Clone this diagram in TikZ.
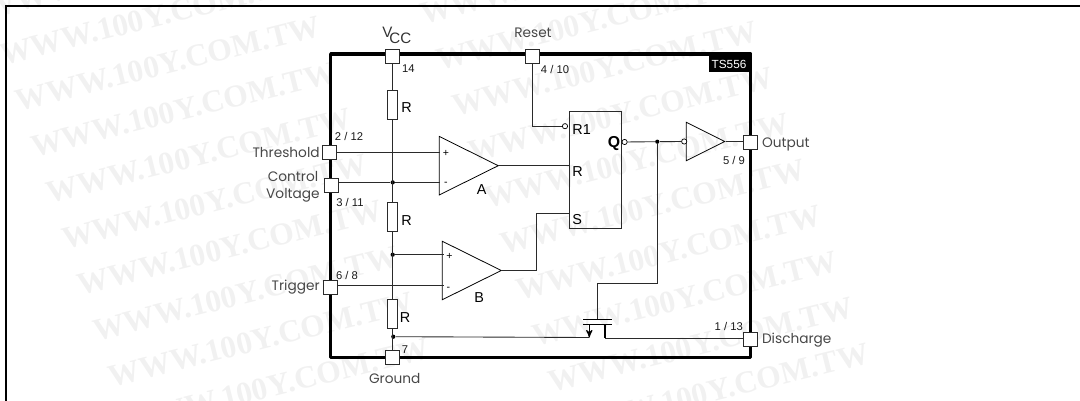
\documentclass[tikz,border=0pt]{standalone}
\usepackage{fontspec}
\setmainfont{Poppins}
\newfontfamily\helv{Liberation Sans}
\newfontfamily\wmfont{Liberation Serif}
\usetikzlibrary{arrows,shapes.geometric}
\definecolor{wirecol}{HTML}{2A2A2A}
\definecolor{wmcol}{HTML}{F1F1F1}

\begin{document}
\begin{tikzpicture}[>=stealth',x=0.02cm,y=-0.02cm,
  wire/.style={draw=wirecol,line width=0.5pt},
  pin/.style={draw=wirecol,fill=white,line width=0.5pt,rectangle,minimum size=0.28cm,inner sep=0pt},
  res/.style={draw=wirecol,fill=white,line width=0.5pt,rectangle,minimum width=0.2cm,minimum height=0.58cm,inner sep=0pt},
  junct/.style={circle,fill=black,inner sep=0pt,minimum size=0.085cm},
  bubble/.style={circle,draw=black,fill=white,line width=0.4pt,inner sep=0pt,minimum size=0.105cm},
  opamp/.style={draw=black,line width=0.45pt,isosceles triangle,isosceles triangle stretches,
    minimum width=1.17cm,minimum height=1.18cm,inner sep=0pt,anchor=apex},
  buff/.style={opamp,minimum width=0.77cm,minimum height=0.77cm},
  pinlab/.style={font=\helv\fontsize{6.4}{7}\selectfont,inner sep=0pt,text=black!90},
  sidelab/.style={font=\fontsize{7.8}{9}\selectfont,inner sep=0pt,text=black!72},
  partlab/.style={font=\helv\fontsize{8.2}{9}\selectfont,inner sep=0pt},
  signlab/.style={font=\helv\fontsize{6}{7}\selectfont,inner sep=0pt},
  wmark/.style={font=\wmfont\bfseries\fontsize{18}{19}\selectfont,text=wmcol,rotate=14,anchor=south west,inner sep=0pt}]

\useasboundingbox (0,0) rectangle (1080,401);

% watermark
\foreach \k in {-1,...,8}
  \node[wmark] (wml\k) at ({3+15.5*\k},{66+46*\k}) {WWW.100Y.COM.TW};
\foreach \k in {-2,...,7}
  \node[wmark] (wmr\k) at ({455+16*\k},{117+46*\k}) {WWW.100Y.COM.TW};

% page rule and chip outline
\draw[line width=1.15pt] (6,401) -- (6,5.7) -- (1080,5.7);
\draw[line width=1.9pt,line join=round] (330.7,54) rectangle (750.7,357.8);
\node[fill=black,text=white,font=\helv\fontsize{6.7}{8}\selectfont,minimum width=0.8cm,minimum height=0.34cm,inner sep=0pt]
  (tag) at (729,64) {TS556};

% divider
\node[res] (ra) at (392.7,104.5) {};
\node[res] (rb) at (392.7,216.7) {};
\node[res] (rc) at (392.7,314.2) {};
\node[junct] (ja) at (392.7,182.4) {};
\node[junct] (jb) at (392.7,254.7) {};
\node[junct] (jc) at (393.3,336.7) {};

% comparators and flip flop
\node[opamp] (cmpa) at (499.3,165.7) {};
\node[opamp] (cmpb) at (502.3,270.5) {};
\node[draw=wirecol,line width=0.5pt,rectangle,minimum width=1.046cm,minimum height=2.346cm,inner sep=0pt] (ff) at (595.2,169.7) {};
\node[buff] (inv) at (725.7,141.5) {};
\node[bubble] (br) at (565,126.2) {};
\node[bubble] (bq) at (624.6,142) {};
\node[bubble] (bi) at (684.2,141.5) {};
\node[junct] (jq) at (657.3,141.7) {};

% pins
\node[pin] (pvcc) at (392.7,56) {};
\node[pin] (prst) at (532,56) {};
\node[pin] (pthr) at (329.5,152) {};
\node[pin] (pctl) at (331,185) {};
\node[pin] (ptrg) at (330.5,287.3) {};
\node[pin] (pgnd) at (392.7,357.5) {};
\node[pin] (pout) at (750.8,142.7) {};
\node[pin] (pdis) at (750.8,339) {};

\coordinate (ainp) at (440,152);
\coordinate (ainm) at (440,182.4);
\coordinate (binp) at (443.7,254.7);
\coordinate (binm) at (443.7,285.7);
\coordinate (rin) at (569,165.7);
\coordinate (sin) at (569,213.7);
\coordinate (bbend) at (536.7,270.5);
\coordinate (bbent) at (536.7,213.7);
\coordinate (rstb) at (532.7,126.2);
\coordinate (gatea) at (657.3,283);
\coordinate (gateb) at (597.3,283);
\coordinate (gatec) at (597.3,319.6);
\coordinate (srct) at (589.3,324.4);
\coordinate (srcb) at (589.3,337.5);
\coordinate (drnt) at (605,324.4);
\coordinate (drnb) at (605,338.4);

\path[wire] (pvcc) edge (ra) (ra) edge (rb) (rb) edge (rc) (rc) edge (pgnd)
  (pthr.east |- ainp) edge (ainp)
  (pctl.east |- ainm) edge (ja) (ja) edge (ainm)
  (jb) edge (binp)
  (ptrg.east |- binm) edge (binm)
  (cmpa.apex) edge (rin);
\draw[wire] (cmpb.apex) -- (bbend) -- (bbent) -- (sin);
\draw[wire] (prst) -- (prst |- rstb) -- (br);
\draw[wire] (bq) -- (jq) -- (bi);
\draw[wire] (inv.apex) -- (pout.west |- inv.apex);
\draw[wire] (jq) -- (gatea) -- (gateb) -- (gatec);
\draw[wire] (jc) -- (srcb);
\draw[wire] (drnb) -- (pdis.west |- drnb);

% discharge transistor
\draw[line width=0.7pt] (583.3,319.6) -- (612.3,319.6);
\draw[line width=0.7pt] (583.3,324.4) -- (612.3,324.4);
\draw[->,line width=0.6pt] (srct) -- (srcb);
\draw[line width=0.6pt] (drnt) -- (drnb);

% labels
\node[font=\helv\fontsize{8.6}{10}\selectfont,inner sep=0pt,text=black!80,anchor=base west] (lvcc) at (382,38) {V\kern-0.2em\raisebox{-3.4pt}{CC}};
\node[sidelab] (lrst) at (533,33) {Reset};
\node[pinlab] (n14) at (408.5,69) {14};
\node[pinlab] (n410) at (555,69) {4 / 10};
\node[pinlab] (n212) at (349,136) {2 / 12};
\node[pinlab] (n311) at (350,202) {3 / 11};
\node[pinlab] (n68) at (347,275) {6 / 8};
\node[pinlab] (n7) at (405,350) {7};
\node[pinlab] (n59) at (734,160) {5 / 9};
\node[pinlab] (n113) at (728.7,326.7) {1 / 13};
\node[sidelab,anchor=east] (lthr) at (320,152) {Threshold};
\node[sidelab,anchor=east] (lctl) at (318.5,176) {Control};
\node[sidelab,anchor=east] (lvlt) at (320,195) {Voltage};
\node[sidelab,anchor=east] (ltrg) at (320,287) {Trigger};
\node[sidelab] (lgnd) at (394.7,378) {Ground};
\node[sidelab,anchor=west] (lout) at (761.7,144) {Output};
\node[sidelab,anchor=west] (ldis) at (761.7,340) {Discharge};
\node[partlab] (lra) at (406.7,108) {R};
\node[partlab] (lrb) at (406.7,221) {R};
\node[partlab] (lrc) at (405,318) {R};
\node[partlab] (la) at (481.7,189.3) {A};
\node[partlab] (lb) at (479.3,298) {B};
\node[signlab] (ap) at (446,153.3) {+};
\node[signlab] (am) at (446,184) {-};
\node[signlab] (bp) at (449.5,256.7) {+};
\node[signlab] (bm) at (448.5,289) {-};
\node[partlab,anchor=west] (lr1) at (572,130) {R1};
\node[partlab,anchor=west] (lr) at (572,171.3) {R};
\node[partlab,anchor=west] (ls) at (572,219.3) {S};
\node[partlab,font=\helv\bfseries\fontsize{9}{10}\selectfont] (lq) at (614,144) {Q};

\end{tikzpicture}
\end{document}
